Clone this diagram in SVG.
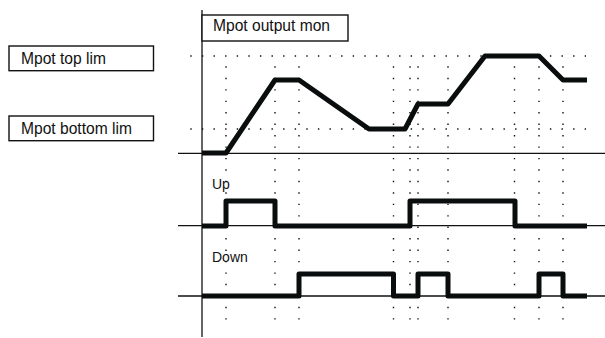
<svg xmlns="http://www.w3.org/2000/svg" width="605" height="338" viewBox="0 0 605 338">
<style>
.lbl{font-family:"Liberation Sans",Arial,sans-serif;font-size:15.6px;fill:#111}
.sig{font-family:"Liberation Sans",Arial,sans-serif;font-size:14px;fill:#111}
.box{fill:#fff;stroke:#111;stroke-width:1.4}
.thin{stroke:#111;stroke-width:1.3;fill:none}
.dotv{stroke:#111;stroke-width:1.4;fill:none;stroke-dasharray:1.4 10.05}
.doth{stroke:#111;stroke-width:1.4;fill:none;stroke-dasharray:1.4 10.2}
.trace{stroke:#0a0d0d;stroke-width:5;fill:none;stroke-linejoin:round;stroke-linecap:butt}
</style>
<rect width="605" height="338" fill="#fff"/>
<g id="grid">
<line class="doth" x1="190.3" y1="56" x2="586" y2="56"/>
<line class="doth" x1="190.3" y1="129" x2="586" y2="129"/>
<line class="dotv" x1="226" y1="66.3" x2="226" y2="321"/>
<line class="dotv" x1="275" y1="66.3" x2="275" y2="321"/>
<line class="dotv" x1="299" y1="66.3" x2="299" y2="321"/>
<line class="dotv" x1="393.5" y1="66.3" x2="393.5" y2="321"/>
<line class="dotv" x1="410" y1="66.3" x2="410" y2="321"/>
<line class="dotv" x1="418" y1="66.3" x2="418" y2="321"/>
<line class="dotv" x1="448" y1="66.3" x2="448" y2="321"/>
<line class="dotv" x1="514.5" y1="66.3" x2="514.5" y2="321"/>
<line class="dotv" x1="539" y1="66.3" x2="539" y2="321"/>
<line class="dotv" x1="563" y1="66.3" x2="563" y2="321"/>
</g>
<g id="connectors">
<line class="thin" x1="202" y1="10" x2="202" y2="337"/>
<line class="thin" x1="178" y1="153.3" x2="605" y2="153.3"/>
<line class="thin" x1="178" y1="225.7" x2="605" y2="225.7"/>
<line class="thin" x1="178" y1="296" x2="605" y2="296"/>
<polyline class="trace" points="202,153 226,153 275,80 299,80 369,129 405,129 418,104 448,104 485,56 539,56 563,80 587,80"/>
<polyline class="trace" points="202,226 226,226 226,201 275,201 275,226 410,226 410,201 515,201 515,226 587,226"/>
<polyline class="trace" points="202,296 299,296 299,274 393.5,274 393.5,296 418,296 418,274 448,274 448,296 539,296 539,274 563,274 563,296 587,296"/>
</g>
<g id="node-output">
<rect class="box" x="202" y="15" width="146" height="26"/>
<text class="lbl" x="213" y="31">Mpot output mon</text>
</g>
<g id="node-top">
<rect class="box" x="9" y="46" width="144.5" height="24.7"/>
<text class="lbl" x="21" y="63.5">Mpot top lim</text>
</g>
<g id="node-bottom">
<rect class="box" x="9" y="116" width="144.5" height="24.7"/>
<text class="lbl" x="21" y="133.5">Mpot bottom lim</text>
</g>
<g id="node-up">
<text class="sig" x="212" y="189">Up</text>
</g>
<g id="node-down">
<text class="sig" x="212" y="261.5">Down</text>
</g>
</svg>
